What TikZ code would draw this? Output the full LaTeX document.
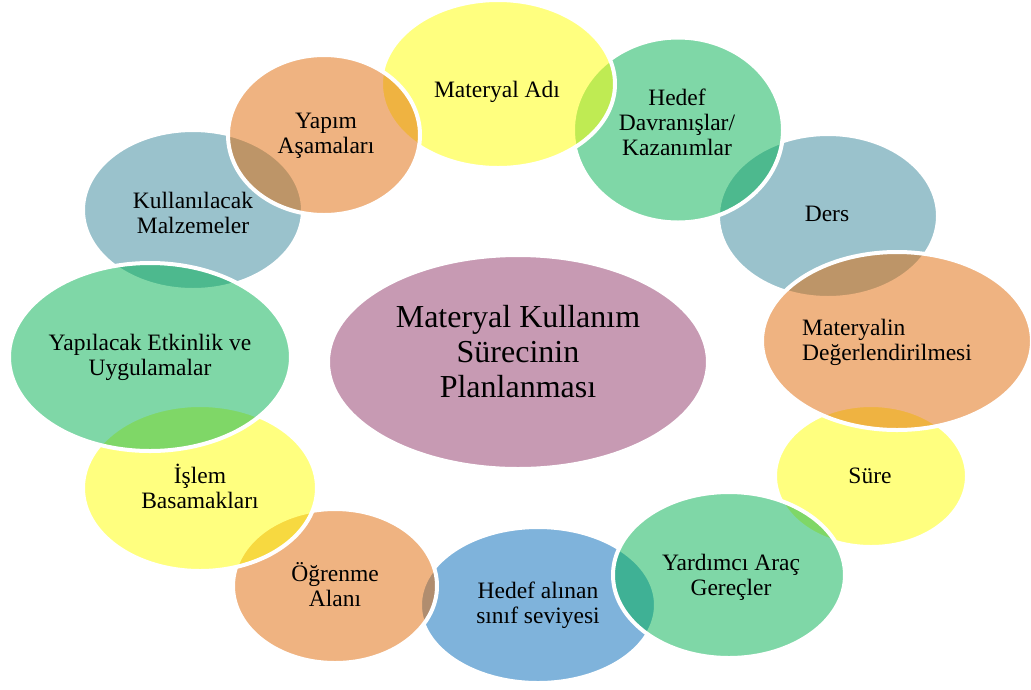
\documentclass[tikz,border=0pt]{standalone}
\usepackage{fontspec}
\setmainfont{Liberation Serif}
\usetikzlibrary{shapes.geometric}
\definecolor{cyel}{RGB}{255,255,0}
\definecolor{cora}{RGB}{225,105,5}
\definecolor{cgrn}{RGB}{1,177,81}
\definecolor{cgry}{RGB}{55,135,155}
\definecolor{cblu}{RGB}{1,105,185}
\definecolor{cpur}{RGB}{145,55,105}
\tikzset{
  blob/.style={ellipse, draw=white, line width=4pt, fill opacity=0.5, draw opacity=1, inner sep=0pt},
  lbl/.style={align=center, text=black, font=\fontsize{23.5}{25}\selectfont, inner sep=0pt},
  biglbl/.style={align=center, text=black, font=\fontsize{32}{35}\selectfont, inner sep=0pt}
}
\begin{document}
\begin{tikzpicture}[x=1pt,y=-1pt]
\useasboundingbox (0,0) rectangle (1031,689);
\fill[white] (0,0) rectangle (1031,689);
% ellipses in stacking order
\node[blob, fill=cgry, minimum width=220pt, minimum height=164pt] (ders) at (828,216) {};
\node[blob, fill=cyel, minimum width=192pt, minimum height=142pt] (sure) at (871,476) {};
\node[blob, fill=cblu, minimum width=236pt, minimum height=156pt] (sinif) at (538,605) {};
\node[blob, fill=cgry, minimum width=220pt, minimum height=160pt] (malz) at (193,210) {};
\node[blob, fill=cora, minimum width=204pt, minimum height=154pt] (ogren) at (335,586) {};
\node[blob, fill=cyel, minimum width=234pt, minimum height=166pt] (islem) at (200,488) {};
\node[blob, fill=cgrn, minimum width=210pt, minimum height=185pt] (hedef) at (678,130) {};
\node[blob, fill=cyel, minimum width=234pt, minimum height=168pt] (adi) at (498,84) {};
\node[blob, fill=cora, minimum width=270pt, minimum height=178pt] (deger) at (897,341) {};
\node[blob, fill=cgrn, minimum width=232pt, minimum height=166pt] (arac) at (729,575) {};
\node[blob, fill=cgrn, minimum width=282pt, minimum height=188pt] (etk) at (150,357) {};
\node[blob, fill=cora, minimum width=192pt, minimum height=160pt] (yapim) at (324,135) {};
\node[blob, fill=cpur, minimum width=380pt, minimum height=214pt] (merkez) at (518,362) {};
% texts
\node[lbl] (tadi) at (497,92) {Materyal Adı};
\node[lbl] (thedef) at (677,122) {Hedef\\Davranışlar/\\Kazanımlar};
\node[lbl] (tders) at (827,214) {Ders};
\node[lbl, align=left, anchor=west] (tdeger) at (802,342) {Materyalin\\Değerlendirilmesi};
\node[lbl] (tsure) at (870,476) {Süre};
\node[lbl] (tarac) at (731,577) {Yardımcı Araç\\Gereçler};
\node[lbl] (tsinif) at (538,605) {Hedef alınan\\sınıf seviyesi};
\node[lbl] (togren) at (335,585) {Öğrenme\\Alanı};
\node[lbl] (tislem) at (200,486) {İşlem\\Basamakları};
\node[lbl] (tetk) at (150,357) {Yapılacak Etkinlik ve\\Uygulamalar};
\node[lbl] (tmalz) at (193,213) {Kullanılacak\\Malzemeler};
\node[lbl] (tyapim) at (326,136) {Yapım\\Aşamaları};
\node[biglbl] (tmerkez) at (518,352) {Materyal Kullanım\\Sürecinin\\Planlanması};
\end{tikzpicture}
\end{document}
